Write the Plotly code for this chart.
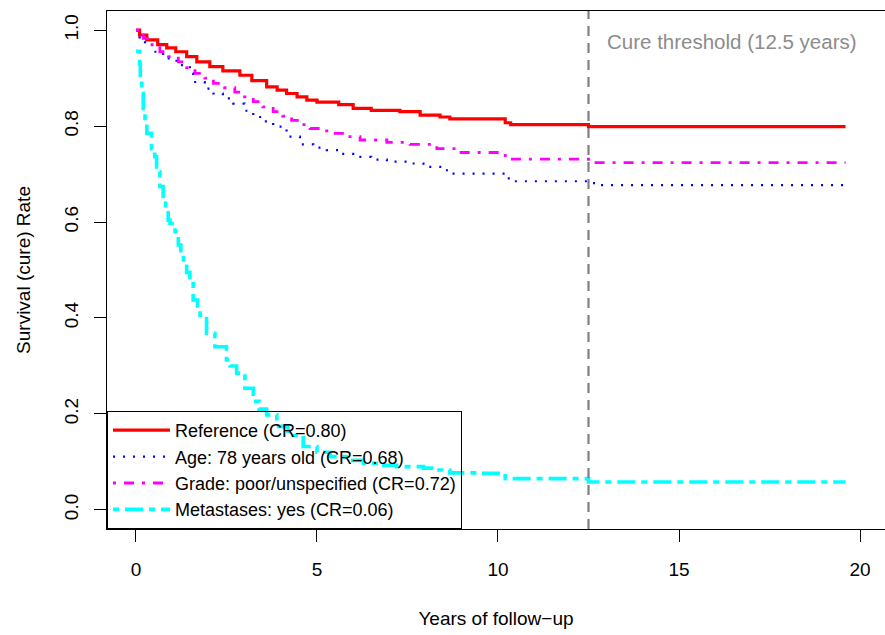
import plotly.graph_objects as go

# ---- data ----
ref_t = [0, 0.1, 0.3, 0.6, 0.85, 1.1, 1.4, 1.68, 2.04, 2.4, 2.87, 3.2, 3.61, 3.9, 4.16, 4.45, 4.72,
         5.0, 5.6, 6.0, 6.5, 7.29, 7.85, 8.4, 8.67, 10.2, 10.35, 12.5, 19.6]
ref_s = [1.0, 0.99, 0.98, 0.97, 0.963, 0.955, 0.945, 0.934, 0.924, 0.915, 0.906, 0.895, 0.882, 0.875,
         0.868, 0.861, 0.854, 0.85, 0.845, 0.837, 0.833, 0.830, 0.823, 0.819, 0.815, 0.807, 0.803,
         0.799, 0.799]

age_t = [0, 0.1, 0.25, 0.5, 0.75, 1.12, 1.49, 1.58, 1.9, 2.14, 2.4, 2.69, 3.0, 3.24, 3.5, 3.79,
         4.16, 4.53, 4.9, 5.27, 5.6, 6.0, 6.5, 6.93, 7.48, 7.94, 8.49, 8.67, 10.2, 10.45, 12.5,
         12.73, 19.6]
age_s = [1.0, 0.985, 0.969, 0.955, 0.941, 0.927, 0.91, 0.892, 0.878, 0.868, 0.858, 0.847, 0.832,
         0.819, 0.81, 0.799, 0.778, 0.762, 0.755, 0.75, 0.742, 0.736, 0.73, 0.726, 0.722, 0.715,
         0.708, 0.701, 0.691, 0.685, 0.681, 0.677, 0.677]

grade_t = [0, 0.1, 0.2, 0.4, 0.66, 0.9, 1.17, 1.4, 1.63, 1.9, 2.14, 2.45, 2.73, 3.0, 3.24, 3.5,
           3.79, 4.05, 4.3, 4.55, 4.81, 5.1, 5.45, 5.8, 6.19, 6.93, 7.57, 8.31, 8.86, 10.2, 12.5,
           19.6]
grade_s = [1.0, 0.99, 0.983, 0.97, 0.955, 0.945, 0.934, 0.922, 0.91, 0.9, 0.889, 0.88, 0.871,
           0.861, 0.851, 0.84, 0.83, 0.821, 0.812, 0.803, 0.795, 0.79, 0.785, 0.778, 0.771, 0.766,
           0.762, 0.753, 0.745, 0.731, 0.724, 0.724]

met_t = [0, 0.1, 0.12, 0.16, 0.2, 0.25, 0.3, 0.43, 0.52, 0.57, 0.66, 0.75, 0.82, 0.89, 0.94, 1.08,
         1.17, 1.24, 1.31, 1.4, 1.49, 1.58, 1.7, 1.77, 1.95, 2.18, 2.5, 2.6, 2.78, 3.01, 3.24, 3.4,
         3.61, 3.89, 4.2, 4.62, 5.0, 5.36, 5.8, 6.28, 6.7, 7.2, 7.94, 8.3, 8.67, 9.5, 10.2, 12.5,
         19.6]
met_s = [0.956, 0.93, 0.9, 0.868, 0.837, 0.81, 0.785, 0.753, 0.736, 0.705, 0.674, 0.649, 0.625,
         0.604, 0.597, 0.58, 0.552, 0.53, 0.514, 0.495, 0.479, 0.4375, 0.42, 0.406, 0.368, 0.34,
         0.3125, 0.3, 0.285, 0.2535, 0.226, 0.21, 0.198, 0.174, 0.155, 0.132, 0.12, 0.111, 0.103,
         0.097, 0.093, 0.09, 0.087, 0.083, 0.077, 0.076, 0.065, 0.058, 0.058]

series_names = ["Reference (CR=0.80)", "Age: 78 years old (CR=0.68)",
                "Grade: poor/unspecified (CR=0.72)", "Metastases: yes (CR=0.06)"]
x_ticks = [0, 5, 10, 15, 20]
y_ticks = [0.0, 0.2, 0.4, 0.6, 0.8, 1.0]
y_tick_labels = ["0.0", "0.2", "0.4", "0.6", "0.8", "1.0"]
cure_threshold = 12.5
cure_label = "Cure threshold (12.5 years)"

FONT = "Liberation Sans, Arial, Helvetica, sans-serif"
FS = 19

styles = [
    dict(color="#ff0000", width=3.2, dash="solid"),
    dict(color="#0000ff", width=2.2, dash="2px,8px"),
    dict(color="#ff00ff", width=2.8, dash="3px,8px,10px,8px"),
    dict(color="#00ffff", width=3.6, dash="6px,6px,18px,6px"),
]

fig = go.Figure()
for (t, s), name, st in zip([(ref_t, ref_s), (age_t, age_s), (grade_t, grade_s), (met_t, met_s)],
                            series_names, styles):
    fig.add_trace(go.Scatter(x=t, y=s, mode="lines", name=name, line_shape="hv", line=st))

fig.add_shape(type="line", xref="x", yref="paper", x0=cure_threshold, x1=cure_threshold,
              y0=0, y1=1, line=dict(color="#808080", width=2.2, dash="10px,7px"))
fig.add_annotation(x=12.95, y=0.977, xref="x", yref="y", text=cure_label, showarrow=False,
                   xanchor="left", yanchor="middle",
                   font=dict(family=FONT, size=20.5, color="#8c8c8c"))

fig.update_layout(
    width=885, height=635,
    margin=dict(l=107, r=0, t=11, b=106),
    paper_bgcolor="white", plot_bgcolor="white",
    font=dict(family=FONT, size=FS, color="black"),
    showlegend=True,
    legend=dict(x=0, y=0, xanchor="left", yanchor="bottom", bgcolor="rgba(0,0,0,0)",
                bordercolor="black", borderwidth=1, font=dict(family=FONT, size=18),
                tracegroupgap=0, itemwidth=57),
    xaxis=dict(range=[-0.8, 20.69], tickvals=x_ticks, ticks="outside", ticklen=12,
               tickcolor="black", tickwidth=1, showline=True, linecolor="black", linewidth=1,
               mirror=True, showgrid=False, zeroline=False, automargin=False,
               tickfont=dict(family=FONT, size=FS), ticklabelstandoff=11,
               title=dict(text="Years of follow\u2212up", font=dict(family=FONT, size=FS),
                          standoff=32)),
    yaxis=dict(range=[-0.04, 1.04], tickvals=y_ticks, ticktext=y_tick_labels, ticks="outside",
               ticklen=12, tickcolor="black", tickwidth=1, showline=True, linecolor="black",
               linewidth=1, showgrid=False, zeroline=False, tickangle=-90, automargin=False,
               tickfont=dict(family=FONT, size=FS), ticklabelstandoff=8,
               title=dict(text="Survival (cure) Rate", font=dict(family=FONT, size=FS),
                          standoff=25)),
)

fig.write_html("out.html", config={"displayModeBar": False},
               post_script="document.body.style.margin='0';document.body.style.overflow='hidden';")
